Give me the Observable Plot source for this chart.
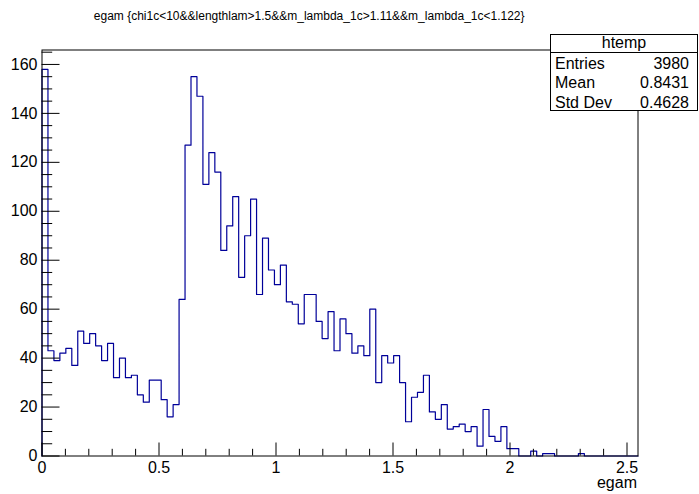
<!DOCTYPE html>
<html>
<head>
<meta charset="utf-8">
<script src="https://cdn.jsdelivr.net/npm/d3@7"></script>
<script src="https://cdn.jsdelivr.net/npm/@observablehq/plot@0.6"></script>
<style>
  body { margin: 0; background: #fff; }
  #wrap { position: relative; width: 699px; height: 494px; font-family: 'Liberation Sans', Arial, sans-serif; }
  #stats { position: absolute; left: 550px; top: 34px; width: 148px; height: 77px; box-sizing: border-box;
           border: 1px solid #000; background: #fff; font-size: 16px; color: #000; }
  #stats .hdr { height: 17px; line-height: 15px; text-align: center; border-bottom: 1px solid #000; }
  #stats .row { display: flex; justify-content: space-between; height: 19.3px; line-height: 19.3px; padding: 0 8px 0 4px; }
  #stats .rows { padding-top: 1px; }
</style>
</head>
<body>
<div id="wrap">
  <div id="chart"></div>
  <div id="stats"></div>
</div>
<script>
const title = "egam {chi1c<10&&lengthlam>1.5&&m_lambda_1c>1.11&&m_lambda_1c<1.122}";
const xLabel = "egam";
const histName = "htemp";
const statNames = ["Entries", "Mean", "Std Dev"];
const statValues = ["3980", "0.8431", "0.4628"];

const xMin = 0, xMax = 2.547, nBins = 100;
const yMax = 165.9;
const counts = [
  158, 43, 39, 42, 44, 37, 51, 46, 50, 45,
  39, 46, 32, 40, 32, 33, 25, 22, 31, 31,
  23, 16, 21, 64, 127, 155, 147, 111, 124, 116,
  84, 94, 106, 73, 90, 105, 66, 89, 76, 70,
  78, 63, 62, 54, 66, 66, 55, 48, 59, 43,
  56, 50, 42, 45, 41, 60, 30, 41, 38, 41,
  30, 14, 24, 26, 33, 18, 15, 21, 11, 12,
  13, 10, 12, 4, 19, 8, 6, 12, 3, 3,
  0, 0, 2, 0, 1, 1, 0, 0, 0, 0,
  1, 0, 0, 0, 0, 0, 0, 0, 0, 0
];
const xMajor = [0, 0.5, 1, 1.5, 2, 2.5];
const xMinor = [0.1,0.2,0.3,0.4,0.6,0.7,0.8,0.9,1.1,1.2,1.3,1.4,1.6,1.7,1.8,1.9,2.1,2.2,2.3,2.4];
const yMajor = [0, 20, 40, 60, 80, 100, 120, 140, 160];
const yMinor = [5,10,15,25,30,35,45,50,55,65,70,75,85,90,95,105,110,115,125,130,135,145,150,155,165];

const binW = (xMax - xMin) / nBins;
const steps = [{x: xMin, y: 0}];
counts.forEach((c, i) => {
  steps.push({x: xMin + i * binW, y: c}, {x: xMin + (i + 1) * binW, y: c});
});
steps.push({x: xMax, y: 0});

const chart = Plot.plot({
  width: 699,
  height: 494,
  marginLeft: 41.5,
  marginRight: 61.5,
  marginTop: 49.5,
  marginBottom: 38.5,
  x: {domain: [xMin, xMax]},
  y: {domain: [0, yMax]},
  style: {fontFamily: "'Liberation Sans', Arial, sans-serif", fontSize: "16px", background: "white", color: "black"},
  marks: [
    Plot.line(steps, {x: "x", y: "y", stroke: "#000099", strokeWidth: 1.2}),
    Plot.frame({stroke: "black"}),
    Plot.axisX({ticks: xMajor, tickSize: -13, fill: "none", label: null}),
    Plot.axisX({ticks: xMinor, tickSize: -6.7, fill: "none", label: null}),
    Plot.axisX({ticks: xMajor, tickSize: 0, tickPadding: 6, tickFormat: d => String(d), label: null}),
    Plot.axisY({ticks: yMajor, tickSize: -18, fill: "none", label: null}),
    Plot.axisY({ticks: yMinor, tickSize: -10.7, fill: "none", label: null}),
    Plot.axisY({ticks: yMajor, tickSize: 0, tickPadding: 4.5, tickFormat: d => String(d), label: null}),
    Plot.text([xLabel], {frameAnchor: "bottom-right", textAnchor: "end", lineAnchor: "bottom", dx: -1, dy: 31.8, fontSize: 16}),
    Plot.text([title], {frameAnchor: "top-left", textAnchor: "start", lineAnchor: "bottom", dx: 51.8, dy: -30, fontSize: 12})
  ]
});
document.getElementById("chart").appendChild(chart);

const stats = document.getElementById("stats");
const hdr = document.createElement("div");
hdr.className = "hdr";
hdr.textContent = histName;
stats.appendChild(hdr);
const rows = document.createElement("div");
rows.className = "rows";
statNames.forEach((n, i) => {
  const r = document.createElement("div");
  r.className = "row";
  const a = document.createElement("span"); a.textContent = n;
  const b = document.createElement("span"); b.textContent = statValues[i];
  r.appendChild(a); r.appendChild(b);
  rows.appendChild(r);
});
stats.appendChild(rows);
</script>
</body>
</html>
